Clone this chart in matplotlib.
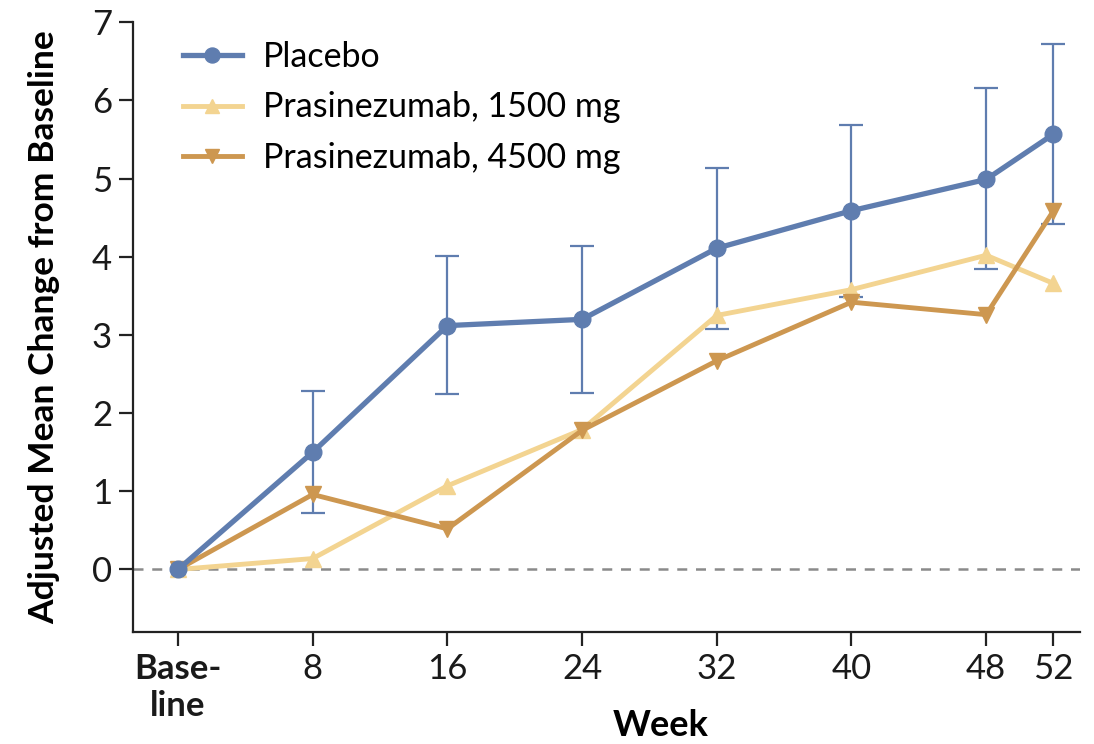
import matplotlib.pyplot as plt

weeks = [0, 8, 16, 24, 32, 40, 48, 52]
week_labels = ["Base-\nline", "8", "16", "24", "32", "40", "48", "52"]

placebo = [0.0, 1.50, 3.12, 3.20, 4.11, 4.59, 4.99, 5.57]
placebo_upper = [0.0, 2.28, 4.01, 4.14, 5.13, 5.69, 6.16, 6.72]
placebo_lower = [0.0, 0.72, 2.24, 2.26, 3.08, 3.49, 3.84, 4.42]
dose_1500 = [0.0, 0.14, 1.07, 1.79, 3.25, 3.58, 4.02, 3.66]
dose_4500 = [0.0, 0.96, 0.52, 1.78, 2.67, 3.42, 3.26, 4.59]

C_PLACEBO = "#5f7daf"
C_1500 = "#f3d491"
C_4500 = "#cd9750"

plt.rcParams["font.family"] = ["Lato", "DejaVu Sans"]
fig = plt.figure(figsize=(10.94, 7.44), dpi=100)
ax = fig.add_axes([0.1216, 0.1505, 0.866, 0.8195])

ax.axhline(0, color="#8a8a8a", lw=1.8, ls=(0, (4, 3.5)), zorder=1)

err_lo = [p - l for p, l in zip(placebo, placebo_lower)]
err_hi = [u - p for p, u in zip(placebo, placebo_upper)]
ax.errorbar(weeks[1:], placebo[1:], yerr=[err_lo[1:], err_hi[1:]], fmt="none",
            ecolor=C_PLACEBO, elinewidth=1.6, capsize=8.5, capthick=1.6, zorder=2)

ax.plot(weeks, dose_1500, color=C_1500, lw=3.5, marker="^", ms=11, zorder=3,
        label="Prasinezumab, 1500 mg")
ax.plot(weeks, dose_4500, color=C_4500, lw=3.5, marker="v", ms=11, zorder=4,
        label="Prasinezumab, 4500 mg")
ax.plot(weeks, placebo, color=C_PLACEBO, lw=3.8, marker="o", ms=12, zorder=5,
        label="Placebo")

ax.set_xlim(-2.67, 53.6)
ax.set_ylim(-0.8, 7)
ax.set_yticks(range(0, 8))
ax.set_xticks(weeks)
ax.set_xticklabels(week_labels)
ax.get_xticklabels()[0].set_fontweight("bold")

for s in ["top", "right"]:
    ax.spines[s].set_visible(False)
for s in ["left", "bottom"]:
    ax.spines[s].set_linewidth(1.6)
    ax.spines[s].set_color("#222222")
ax.tick_params(axis="both", direction="out", length=10, width=1.6, color="#222222",
               labelsize=25, labelcolor="#1a1a1a")
ax.tick_params(axis="y", pad=5)
ax.tick_params(axis="x", pad=5)

ax.set_xlabel("Week", fontsize=26, fontweight="bold", va="center")
ax.xaxis.set_label_coords(0.557, -0.153)
ax.set_ylabel("Adjusted Mean Change from Baseline", fontsize=25.5, fontweight="bold",
              va="center")
ax.yaxis.set_label_coords(-0.094, 0.5)

h, l = ax.get_legend_handles_labels()
order = [2, 0, 1]
ax.legend([h[i] for i in order], [l[i] for i in order], loc="upper left",
          bbox_to_anchor=(0.02, 1.02), frameon=False, fontsize=24.5,
          handlelength=1.75, handletextpad=0.6, labelspacing=0.55, markerscale=0.9)

fig.savefig("out.png", dpi=100)
